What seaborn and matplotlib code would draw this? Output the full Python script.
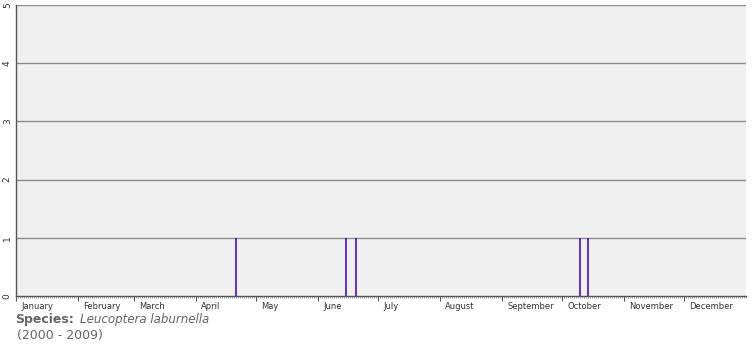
import matplotlib
matplotlib.use("Agg")
import matplotlib.pyplot as plt
import matplotlib.transforms as mtransforms
import numpy as np
import pandas as pd
import seaborn as sns

# ---- data ----
record_dates = ["04-21", "06-15", "06-20", "10-10", "10-14"]
record_counts = [1, 1, 1, 1, 1]
month_names = ["January", "February", "March", "April", "May", "June",
               "July", "August", "September", "October", "November", "December"]
y_ticks = [0, 1, 2, 3, 4, 5]
species = "Leucoptera laburnella"
period = "(2000 - 2009)"

df = pd.DataFrame({"date": pd.to_datetime(["2001-" + d for d in record_dates]),
                   "count": record_counts})
df["day"] = df["date"].dt.dayofyear - 1
month_starts = (pd.to_datetime([f"2001-{m:02d}-01" for m in range(1, 13)]).dayofyear - 1).tolist()

sns.set_style("white")
plt.rcParams["font.family"] = ["DejaVu Sans"]

fig = plt.figure(figsize=(7.55, 3.5), dpi=100)
ax = fig.add_axes([16 / 755, (350 - 296) / 350, 730 / 755, 291 / 350])
ax.set_facecolor("#f0f0f0")

ax.set_xlim(0, 365)
ax.set_ylim(0, 5)

# grid lines
for y in y_ticks[1:]:
    ax.axhline(y, color="#8c8c8c", lw=1, zorder=1)

ax.vlines(df["day"], 0, df["count"], color="#3a00b0", lw=1.1, zorder=3)
sns.despine(ax=ax, top=True, right=True)

for s in ["left", "bottom"]:
    ax.spines[s].set_color("#555555")
    ax.spines[s].set_linewidth(1)

ax.set_yticks(y_ticks)
ax.set_yticklabels([str(v) for v in y_ticks], rotation=90, va="center",
                   fontsize=6.5, color="#333333")
ax.tick_params(axis="y", left=False, length=0, pad=3)

ax.set_xticks(month_starts)
ax.set_xticks(np.arange(0, 366, 1), minor=True)
ax.set_xticklabels(month_names, fontsize=6, color="#333333", ha="left")
ax.tick_params(axis="x", which="both", bottom=True)
ax.tick_params(axis="x", which="major", direction="out", length=3.5, width=0.8,
               color="#555555", pad=1)
ax.tick_params(axis="x", which="minor", direction="out", length=1.3, width=0.5,
               color="#777777")
offset = mtransforms.ScaledTranslation(5 / 100, 0, fig.dpi_scale_trans)
for lbl in ax.get_xticklabels():
    lbl.set_transform(lbl.get_transform() + offset)

fig.text(15 / 755, 1 - 320 / 350, "Species:", fontsize=9, fontweight="bold",
         color="#666666", va="center", ha="left")
fig.text(80 / 755, 1 - 320 / 350, species, fontsize=8.6, style="italic",
         color="#666666", va="center", ha="left")
fig.text(17 / 755, 1 - 335 / 350, period, fontsize=9,
         color="#666666", va="center", ha="left")

fig.savefig("out.png", dpi=100, facecolor="white")
